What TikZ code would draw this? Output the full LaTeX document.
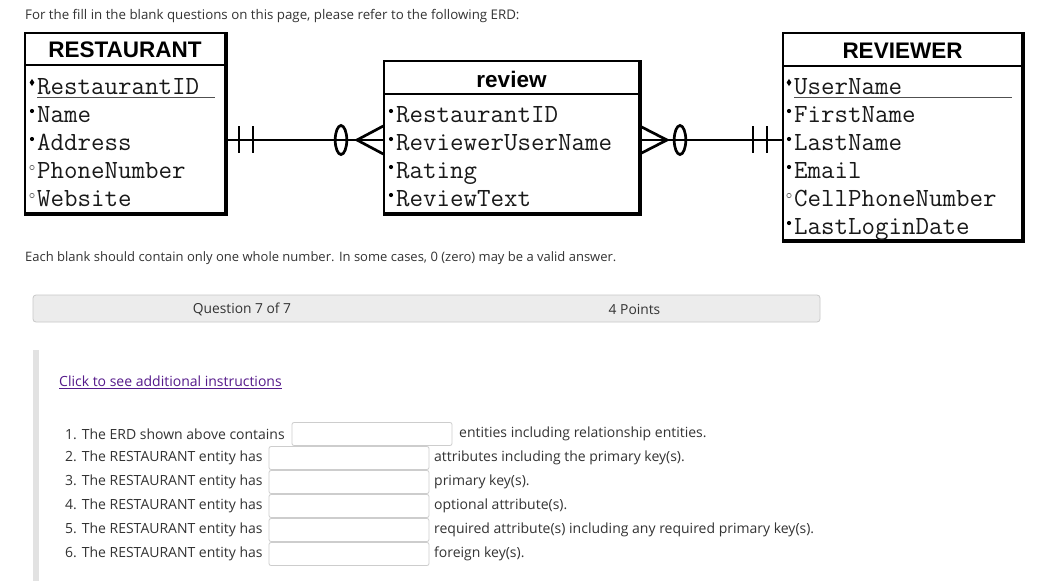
\documentclass[tikz,border=0pt]{standalone}
\usepackage{fontspec}
\setmainfont{Open Sans}
\newfontfamily\hdfont{Liberation Sans}
\usetikzlibrary{calc}
\definecolor{txt}{RGB}{51,51,51}
\definecolor{barfill}{RGB}{236,236,236}
\definecolor{barline}{RGB}{200,200,200}
\definecolor{sidebar}{RGB}{226,226,226}
\definecolor{inboxc}{RGB}{205,205,205}
\definecolor{linkc}{RGB}{85,26,139}
\definecolor{ulgray}{RGB}{80,80,80}
\definecolor{optgray}{RGB}{110,110,110}
\definecolor{attrc}{RGB}{25,25,25}
\newcommand\reqmark[1]{\fill ($(#1.base west)+(-5,-11)$) circle[radius=2.1pt];}
\newcommand\pkmark[1]{\fill ($(#1.base west)+(-5,-11.5)$) +(0,-3.6) -- +(2.4,0) -- +(0,3.6) -- +(-2.4,0) -- cycle;}
\newcommand\optmark[1]{\draw[optgray, line width=0.7pt] ($(#1.base west)+(-5,-10.5)$) circle[radius=2.2pt];}
\tikzset{
  entity/.style={draw, line width=1.4pt, inner sep=0pt, rectangle},
  shadowline/.style={line width=2.6pt},
  hdr/.style={font=\hdfont\bfseries\fontsize{22.5}{24}\selectfont, inner sep=0pt},
  attr/.style={font=\ttfamily\fontsize{26.2}{28}\selectfont, text=attrc, anchor=base west, inner sep=0pt},
  ui/.style={font=\fontsize{14}{16}\selectfont, text=txt, inner sep=0pt},
  conn/.style={line width=2.7pt},
  inbox/.style={draw=inboxc, line width=0.8pt, rounded corners=2pt, fill=white},
}
\begin{document}
\begin{tikzpicture}[x=1pt,y=-1pt]
\useasboundingbox[fill=white] (0,0) rectangle (1039,581);

% ---------- top line
\node[ui, anchor=base west, font=\fontsize{13.3}{16}\selectfont] (intro) at (25,19.5) {For the fill in the blank questions on this page, please refer to the following ERD:};

% ---------- RESTAURANT
\node[entity, minimum width=200pt, minimum height=180pt] (rest) at (125,123) {};
\draw[line width=1.8pt] ($(rest.north west)+(0,33)$) -- ($(rest.north east)+(0,33)$);
\draw[shadowline] ($(rest.north east)+(0.6,0)$) -- ($(rest.south east)+(0.6,0.6)$) -- ($(rest.south west)+(0,0.6)$);
\node[hdr] (resthdr) at ($(rest.north)+(0,17)$) {RESTAURANT};
\node[attr] (r1) at (37,94) {RestaurantID};
\node[attr] (r2) at (37,122) {Name};
\node[attr] (r3) at (37,150) {Address};
\node[attr] (r4) at (37,178) {PhoneNumber};
\node[attr] (r5) at (37,206) {Website};
\pkmark{r1}\reqmark{r2}\reqmark{r3}\optmark{r4}\optmark{r5}
\draw[ulgray, line width=0.9pt] ($(r1.base west)+(0,3)$) -- ++(178,0);

% ---------- review
\node[entity, minimum width=255pt, minimum height=152pt] (review) at (511.5,137) {};
\draw[line width=1.8pt] ($(review.north west)+(0,34)$) -- ($(review.north east)+(0,34)$);
\draw[shadowline] ($(review.north east)+(0.6,0)$) -- ($(review.south east)+(0.6,0.6)$) -- ($(review.south west)+(0,0.6)$);
\node[hdr] (reviewhdr) at ($(review.north)+(0,19)$) {review};
\node[attr] (v1) at (396,122) {RestaurantID};
\node[attr] (v2) at (396,150) {ReviewerUserName};
\node[attr] (v3) at (396,178) {Rating};
\node[attr] (v4) at (396,206) {ReviewText};
\reqmark{v1}\reqmark{v2}\reqmark{v3}\reqmark{v4}

% ---------- REVIEWER
\node[entity, minimum width=239pt, minimum height=207pt] (reviewer) at (902.5,136.5) {};
\draw[line width=1.8pt] ($(reviewer.north west)+(0,34)$) -- ($(reviewer.north east)+(0,34)$);
\draw[shadowline] ($(reviewer.north east)+(0.6,0)$) -- ($(reviewer.south east)+(0.6,0.6)$) -- ($(reviewer.south west)+(0,0.6)$);
\node[hdr] (reviewerhdr) at ($(reviewer.north)+(0,18)$) {REVIEWER};
\node[attr] (w1) at (794,94) {UserName};
\node[attr] (w2) at (794,122) {FirstName};
\node[attr] (w3) at (794,150) {LastName};
\node[attr] (w4) at (794,178) {Email};
\node[attr] (w5) at (794,206) {CellPhoneNumber};
\node[attr] (w6) at (794,234) {LastLoginDate};
\pkmark{w1}\reqmark{w2}\reqmark{w3}\reqmark{w4}\optmark{w5}\reqmark{w6}
\draw[ulgray, line width=0.9pt] ($(w1.base west)+(0,3)$) -- ++(218,0);

% ---------- connectors
\coordinate (lk) at (0,140);
\draw[conn] (rest.east |- lk) -- (review.west |- lk);
\draw[conn] (review.east |- lk) -- (reviewer.west |- lk);
% RESTAURANT side: one and only one
\draw[conn] (239,126) -- (239,153);
\draw[conn] (253,126) -- (253,153);
% review side: zero or many
\draw[conn] (341,140) ellipse[x radius=5.8pt, y radius=14.5pt];
\draw[conn] (review.west |- 0,126) -- (357,140) -- (review.west |- 0,154);
% review side (right): zero or many
\draw[conn] (review.east |- 0,126) -- (667,140) -- (review.east |- 0,154);
\draw[conn] (680,140) ellipse[x radius=5.8pt, y radius=14.5pt];
% REVIEWER side: one and only one
\draw[conn] (753,126) -- (753,153);
\draw[conn] (767,126) -- (767,153);

% ---------- instructions
\node[ui, anchor=west, font=\fontsize{13}{16}\selectfont] (each) at (25,258) {Each blank should contain only one whole number. In some cases, 0 (zero) may be a valid answer.};
\node[draw=barline, fill=barfill, line width=0.8pt, rounded corners=3pt, minimum width=787pt, minimum height=27pt, inner sep=0pt] (qbar) at (426.5,308.5) {};
\node[ui, font=\fontsize{13.8}{16}\selectfont] (qnum) at (242,309) {Question 7 of 7};
\node[ui, font=\fontsize{13.8}{16}\selectfont] (qpts) at (634.5,309) {4 Points};
\fill[sidebar] (33,350) rectangle (39,581);
\node[ui, anchor=west, text=linkc] (link) at (59,382) {\underline{Click to see additional instructions}};

\node[ui, anchor=west] (q1) at (65,434) {1. The ERD shown above contains};
\node[inbox, minimum width=160pt, minimum height=23pt] (b1) at (372,434) {};
\node[ui, anchor=west] (t1) at (459,434) {entities including relationship entities.};

\node[ui, anchor=west] (q2) at (65,458) {2. The RESTAURANT entity has};
\node[inbox, minimum width=160pt, minimum height=23pt] (b2) at (349,458) {};
\node[ui, anchor=west] (t2) at (434,458) {attributes including the primary key(s).};

\node[ui, anchor=west] (q3) at (65,482) {3. The RESTAURANT entity has};
\node[inbox, minimum width=160pt, minimum height=23pt] (b3) at (349,482) {};
\node[ui, anchor=west] (t3) at (434,482) {primary key(s).};

\node[ui, anchor=west] (q4) at (65,506) {4. The RESTAURANT entity has};
\node[inbox, minimum width=160pt, minimum height=23pt] (b4) at (349,506) {};
\node[ui, anchor=west] (t4) at (434,506) {optional attribute(s).};

\node[ui, anchor=west] (q5) at (65,530) {5. The RESTAURANT entity has};
\node[inbox, minimum width=160pt, minimum height=23pt] (b5) at (349,530) {};
\node[ui, anchor=west] (t5) at (434,530) {required attribute(s) including any required primary key(s).};

\node[ui, anchor=west] (q6) at (65,554) {6. The RESTAURANT entity has};
\node[inbox, minimum width=160pt, minimum height=23pt] (b6) at (349,554) {};
\node[ui, anchor=west] (t6) at (434,554) {foreign key(s).};
\end{tikzpicture}
\end{document}
